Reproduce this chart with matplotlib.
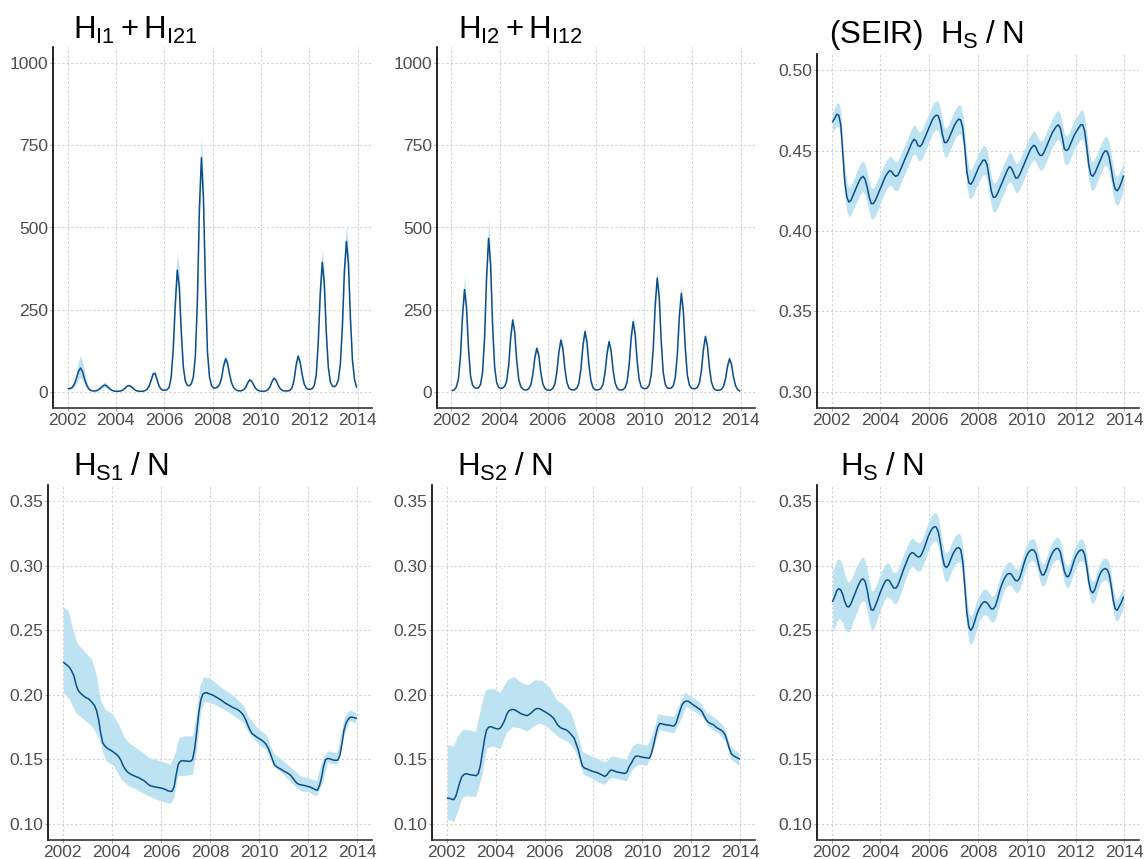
import numpy as np
import matplotlib
matplotlib.use("Agg")
import matplotlib.pyplot as plt

plt.rcParams["font.family"] = ["Liberation Sans", "DejaVu Sans"]
plt.rcParams["mathtext.fontset"] = "custom"
plt.rcParams["mathtext.rm"] = "Liberation Sans"
plt.rcParams["mathtext.it"] = "Liberation Sans:italic"
plt.rcParams["mathtext.bf"] = "Liberation Sans:bold"

# monthly time grid (mid-month), 2002-2013
t = 2002 + (np.arange(144) + 0.5) / 12

# H_I1 + H_I21, one row per year
hi1_mid = [
    9, 10, 14, 24, 42, 62, 72, 60, 38, 20, 9, 4,
    2, 2, 3, 6, 11, 17, 20, 17, 11, 6, 3, 1,
    1, 1, 2, 5, 10, 16, 18, 16, 10, 5, 2, 1,
    1, 1, 3, 7, 16, 34, 54, 55, 36, 16, 7, 4,
    4, 6, 14, 45, 130, 265, 370, 320, 180, 75, 32, 19,
    18, 24, 45, 110, 280, 560, 713, 590, 320, 120, 45, 18,
    11, 11, 14, 22, 42, 78, 100, 85, 52, 26, 12, 6,
    3, 2, 3, 6, 13, 27, 36, 31, 19, 9, 4, 2,
    1, 1, 2, 6, 14, 30, 41, 35, 21, 10, 4, 2,
    2, 2, 4, 12, 35, 80, 108, 90, 52, 24, 11, 7,
    7, 9, 18, 50, 150, 300, 394, 330, 180, 75, 30, 17,
    15, 20, 36, 85, 200, 370, 458, 390, 220, 95, 38, 14,
]
# relative upper / lower limits of the interval for each season
hi1_up = [1.52, 1.5, 1.3, 1.18, 1.16, 1.09, 1.13, 1.1, 1.1, 1.11, 1.11, 1.11]
hi1_dn = [0.6, 0.7, 0.9, 0.9, 0.9, 0.92, 0.9, 0.9, 0.9, 0.9, 0.9, 0.9]

# H_I2 + H_I12
hi2_mid = [
    3, 6, 15, 40, 110, 230, 311, 255, 130, 47, 20, 12,
    10, 12, 22, 60, 165, 350, 467, 385, 200, 75, 28, 13,
    10, 11, 16, 32, 80, 165, 218, 180, 95, 38, 15, 8,
    5, 5, 9, 20, 50, 102, 132, 110, 58, 24, 10, 5,
    4, 5, 10, 23, 60, 120, 157, 130, 70, 28, 11, 6,
    5, 6, 11, 26, 70, 140, 183, 150, 80, 32, 12, 6,
    5, 6, 10, 22, 58, 116, 152, 125, 66, 27, 11, 5,
    5, 6, 12, 30, 80, 163, 213, 175, 92, 37, 15, 10,
    9, 11, 20, 50, 130, 265, 346, 285, 150, 58, 22, 11,
    10, 11, 18, 44, 112, 228, 299, 245, 130, 50, 20, 11,
    9, 9, 13, 26, 64, 128, 168, 138, 73, 29, 11, 5,
    4, 4, 7, 16, 38, 77, 100, 82, 44, 18, 7, 2,
]
hi2_up = [1.125, 1.13, 1.09, 1.1, 1.1, 1.09, 1.09, 1.09, 1.075, 1.09, 1.065, 1.1]
hi2_dn = [0.92] * 12

# (SEIR) H_S / N
seir_mid = [
    0.468, 0.470, 0.4725, 0.472, 0.466, 0.448, 0.430, 0.421, 0.418, 0.419, 0.422, 0.425,
    0.428, 0.431, 0.433, 0.434, 0.432, 0.427, 0.421, 0.417, 0.417, 0.419, 0.422, 0.425,
    0.428, 0.431, 0.434, 0.436, 0.4375, 0.437, 0.435, 0.434, 0.4345, 0.437, 0.440, 0.443,
    0.446, 0.449, 0.452, 0.455, 0.457, 0.456, 0.453, 0.4525, 0.454, 0.457, 0.460, 0.463,
    0.466, 0.469, 0.471, 0.472, 0.4715, 0.467, 0.460, 0.455, 0.455, 0.457, 0.460, 0.463,
    0.466, 0.468, 0.4695, 0.469, 0.464, 0.452, 0.437, 0.430, 0.429, 0.431, 0.434, 0.437,
    0.440, 0.442, 0.444, 0.444, 0.441, 0.433, 0.425, 0.421, 0.421, 0.423, 0.426, 0.429,
    0.432, 0.435, 0.438, 0.440, 0.439, 0.436, 0.433, 0.433, 0.435, 0.438, 0.441, 0.444,
    0.447, 0.450, 0.452, 0.4533, 0.452, 0.449, 0.447, 0.447, 0.449, 0.452, 0.455, 0.458,
    0.461, 0.463, 0.465, 0.466, 0.464, 0.458, 0.451, 0.450, 0.451, 0.454, 0.457, 0.460,
    0.462, 0.464, 0.466, 0.466, 0.462, 0.452, 0.441, 0.435, 0.434, 0.436, 0.439, 0.442,
    0.445, 0.448, 0.4498, 0.4495, 0.446, 0.439, 0.431, 0.426, 0.425, 0.427, 0.430, 0.434,
]
seir_hw = [
    0.006, 0.0065, 0.007, 0.0075, 0.008, 0.0085, 0.009, 0.009, 0.009, 0.009, 0.009, 0.009,
] + [0.0095] * 12 + [0.009] * 120

# H_S1 / N
s1_mid = [
    0.225, 0.2238, 0.2225, 0.2208, 0.218, 0.2145, 0.208, 0.2035, 0.2015, 0.200, 0.1988, 0.1976,
    0.197, 0.1955, 0.1938, 0.1918, 0.188, 0.181, 0.171, 0.163, 0.1605, 0.159, 0.1578, 0.157,
    0.156, 0.1548, 0.1535, 0.1518, 0.149, 0.1452, 0.1425, 0.1405, 0.1392, 0.1383, 0.1375, 0.1368,
    0.1362, 0.1355, 0.1345, 0.1337, 0.1325, 0.131, 0.1298, 0.1292, 0.1288, 0.1285, 0.1282, 0.1279,
    0.1276, 0.127, 0.1264, 0.1256, 0.1252, 0.1252, 0.129, 0.1385, 0.1462, 0.1484, 0.149, 0.1488,
    0.1486, 0.1484, 0.1485, 0.150, 0.158, 0.171, 0.186, 0.196, 0.2005, 0.2015, 0.2016, 0.2008,
    0.2003, 0.1996, 0.1987, 0.1978, 0.1968, 0.1958, 0.1946, 0.1935, 0.1926, 0.1917, 0.1908, 0.1899,
    0.1893, 0.1885, 0.1873, 0.1858, 0.1838, 0.1805, 0.1765, 0.1728, 0.170, 0.1688, 0.1676, 0.1665,
    0.1656, 0.1645, 0.1632, 0.1614, 0.1585, 0.1545, 0.150, 0.1458, 0.1443, 0.1433, 0.1425, 0.1415,
    0.1405, 0.1397, 0.1388, 0.1375, 0.1355, 0.1332, 0.1315, 0.1306, 0.1302, 0.1299, 0.1296, 0.1291,
    0.1287, 0.1281, 0.1273, 0.1265, 0.126, 0.1295, 0.1355, 0.1445, 0.1498, 0.1506, 0.1504, 0.1498,
    0.1494, 0.1492, 0.1494, 0.153, 0.162, 0.1725, 0.178, 0.181, 0.1826, 0.1826, 0.1822, 0.1818,
]
s1_hi_t = [2002.04, 2002.25, 2002.4, 2002.6, 2002.9, 2003.2, 2003.4, 2003.55, 2003.75,
           2004.05, 2004.3, 2004.5, 2004.7, 2005.0, 2005.3, 2005.55, 2006.0, 2006.4,
           2006.6, 2006.75, 2007.0, 2007.3, 2007.45, 2007.6, 2007.75, 2008.0, 2008.5,
           2009.0, 2009.4, 2009.6, 2010.0, 2010.3, 2010.6, 2011.0, 2011.4, 2011.7,
           2012.0, 2012.35, 2012.6, 2012.8, 2013.2, 2013.5, 2013.7, 2013.96]
s1_hi = [0.268, 0.2643, 0.2527, 0.2398, 0.2334, 0.227, 0.214, 0.196, 0.1883,
         0.1845, 0.1767, 0.1677, 0.1626, 0.1587, 0.1548, 0.151, 0.1484, 0.1458,
         0.1548, 0.1664, 0.1677, 0.1677, 0.1832, 0.2063, 0.2135, 0.2128, 0.205,
         0.1986, 0.1909, 0.1819, 0.1729, 0.169, 0.1548, 0.1484, 0.142, 0.1368,
         0.1355, 0.133, 0.1497, 0.1561, 0.1548, 0.1832, 0.1878, 0.1862]
s1_lo_t = [2002.04, 2002.3, 2002.55, 2002.8, 2003.2, 2003.5, 2003.65, 2003.8,
           2004.1, 2004.4, 2004.7, 2005.0, 2005.5, 2006.0, 2006.4, 2006.55, 2006.7,
           2007.0, 2007.3, 2007.45, 2007.65, 2007.8, 2008.2, 2008.6, 2009.0, 2009.4,
           2009.6, 2010.0, 2010.3, 2010.6, 2011.0, 2011.4, 2011.7, 2012.0, 2012.35,
           2012.6, 2012.8, 2013.2, 2013.5, 2013.7, 2013.96]
s1_lo = [0.2017, 0.196, 0.1857, 0.1819, 0.1754, 0.1664, 0.1548, 0.1484,
         0.1445, 0.1342, 0.1291, 0.1265, 0.1214, 0.1175, 0.1155, 0.120, 0.1368,
         0.1373, 0.138, 0.1548, 0.1883, 0.1947, 0.1922, 0.1883, 0.1832, 0.178,
         0.170, 0.1613, 0.1574, 0.1445, 0.1381, 0.1304, 0.1252, 0.1245, 0.1214,
         0.1317, 0.1471, 0.1458, 0.170, 0.1793, 0.178]

# H_S2 / N
s2_mid = [
    0.120, 0.1197, 0.119, 0.1188, 0.1215, 0.127, 0.1325, 0.1367, 0.1383, 0.1388, 0.1385, 0.1381,
    0.1378, 0.1376, 0.1373, 0.139, 0.145, 0.155, 0.165, 0.1725, 0.1748, 0.1753, 0.1748, 0.1741,
    0.1737, 0.1735, 0.1745, 0.1772, 0.1805, 0.185, 0.1876, 0.1884, 0.1886, 0.1882, 0.1872, 0.1862,
    0.1853, 0.1847, 0.1842, 0.1838, 0.1848, 0.1860, 0.1876, 0.1888, 0.1894, 0.1892, 0.1884, 0.1874,
    0.1866, 0.1856, 0.1845, 0.1832, 0.1818, 0.179, 0.1765, 0.175, 0.174, 0.1735, 0.1729, 0.1718,
    0.1702, 0.1684, 0.1665, 0.162, 0.1575, 0.151, 0.145, 0.1433, 0.1427, 0.142, 0.1413, 0.1407,
    0.1403, 0.1398, 0.1392, 0.1384, 0.1376, 0.1367, 0.1378, 0.140, 0.1417, 0.1414, 0.1408, 0.1401,
    0.1399, 0.1396, 0.1393, 0.139, 0.1405, 0.1445, 0.1468, 0.150, 0.1522, 0.1526, 0.1522, 0.1518,
    0.1515, 0.1513, 0.1511, 0.1509, 0.155, 0.1615, 0.1685, 0.175, 0.1778, 0.1775, 0.1771, 0.1767,
    0.1766, 0.1763, 0.176, 0.1758, 0.178, 0.183, 0.188, 0.1925, 0.1945, 0.1951, 0.195, 0.1938,
    0.1925, 0.1915, 0.1905, 0.1893, 0.1883, 0.1862, 0.1828, 0.1802, 0.1784, 0.1776, 0.1771, 0.1758,
    0.1745, 0.1735, 0.1727, 0.1713, 0.1692, 0.1645, 0.159, 0.1547, 0.153, 0.152, 0.1511, 0.1503,
]
s2_hi_t = [2002.04, 2002.3, 2002.45, 2002.7, 2003.2, 2003.45, 2003.6, 2003.9,
           2004.2, 2004.5, 2004.75, 2005.1, 2005.35, 2005.6, 2005.9, 2006.2, 2006.5,
           2006.8, 2007.1, 2007.35, 2007.55, 2007.8, 2008.2, 2008.5, 2008.75, 2009.1,
           2009.35, 2009.6, 2009.8, 2010.2, 2010.45, 2010.65, 2011.0, 2011.3, 2011.55,
           2011.75, 2012.1, 2012.4, 2012.65, 2013.0, 2013.35, 2013.6, 2013.8, 2013.96]
s2_hi = [0.1612, 0.1599, 0.1676, 0.1732, 0.1714, 0.1933, 0.2035, 0.2048,
         0.2015, 0.2113, 0.2138, 0.2087, 0.2074, 0.2113, 0.2107, 0.2061, 0.1958,
         0.192, 0.1856, 0.1701, 0.156, 0.1534, 0.150, 0.1475, 0.1522, 0.1509,
         0.1496, 0.1599, 0.1624, 0.1604, 0.1701, 0.185, 0.1835, 0.183, 0.1933,
         0.2017, 0.1971, 0.1933, 0.1856, 0.1817, 0.1753, 0.1599, 0.1568, 0.1547]
s2_lo_t = [2002.04, 2002.3, 2002.45, 2002.65, 2002.8, 2003.2, 2003.45, 2003.65, 2003.9,
           2004.2, 2004.45, 2004.7, 2005.0, 2005.3, 2005.55, 2005.8, 2006.1, 2006.4,
           2006.65, 2006.95, 2007.2, 2007.4, 2007.6, 2007.9, 2008.2, 2008.45, 2008.75,
           2009.1, 2009.35, 2009.6, 2009.85, 2010.2, 2010.45, 2010.7, 2011.0, 2011.3,
           2011.55, 2011.8, 2012.15, 2012.45, 2012.7, 2013.1, 2013.4, 2013.65, 2013.8,
           2013.96]
s2_lo = [0.1033, 0.1013, 0.1085, 0.120, 0.1213, 0.1208, 0.1367, 0.1586, 0.1599,
         0.1578, 0.1701, 0.1748, 0.174, 0.1714, 0.1753, 0.1778, 0.1753, 0.1701,
         0.1663, 0.1637, 0.1586, 0.1496, 0.138, 0.1355, 0.1321, 0.1303, 0.1355,
         0.1342, 0.1329, 0.1419, 0.1457, 0.145, 0.1573, 0.1727, 0.1714, 0.1701,
         0.1791, 0.1907, 0.1868, 0.183, 0.1753, 0.1701, 0.1637, 0.1496, 0.1475,
         0.1444]

# H_S / N
s_mid = [
    0.2724, 0.276, 0.2805, 0.2822, 0.2812, 0.2775, 0.272, 0.2685, 0.268, 0.2705, 0.2745, 0.2785,
    0.2825, 0.286, 0.289, 0.2898, 0.2878, 0.281, 0.272, 0.2658, 0.2655, 0.269, 0.273, 0.2775,
    0.2815, 0.2852, 0.2882, 0.2891, 0.2882, 0.2852, 0.2828, 0.2825, 0.2845, 0.2885, 0.293, 0.2975,
    0.3015, 0.3055, 0.3088, 0.3102, 0.3096, 0.3078, 0.3068, 0.307, 0.3095, 0.3135, 0.318, 0.3225,
    0.3262, 0.3288, 0.3302, 0.3298, 0.326, 0.3175, 0.307, 0.300, 0.2986, 0.3005, 0.3045, 0.3085,
    0.3115, 0.3135, 0.314, 0.3125, 0.3035, 0.284, 0.264, 0.2525, 0.2498, 0.2525, 0.2575, 0.2625,
    0.2665, 0.2695, 0.2715, 0.2721, 0.2712, 0.2688, 0.2665, 0.2665, 0.2685, 0.2735, 0.2795, 0.2845,
    0.2885, 0.2915, 0.2935, 0.294, 0.2932, 0.2905, 0.2885, 0.2883, 0.2905, 0.2955, 0.301, 0.306,
    0.3095, 0.3115, 0.3125, 0.312, 0.3095, 0.303, 0.2965, 0.2928, 0.293, 0.2965, 0.3015, 0.306,
    0.3095, 0.312, 0.3133, 0.3132, 0.3105, 0.303, 0.2955, 0.2917, 0.2915, 0.295, 0.300, 0.305,
    0.3085, 0.311, 0.3122, 0.312, 0.3085, 0.299, 0.2875, 0.2805, 0.279, 0.2815, 0.2865, 0.2915,
    0.295, 0.297, 0.2978, 0.297, 0.2935, 0.2845, 0.2735, 0.2665, 0.2655, 0.2685, 0.2715, 0.2755,
]
s_hw = [
    0.024, 0.024, 0.024, 0.023, 0.023, 0.022, 0.021, 0.020, 0.019, 0.019, 0.018, 0.018,
    0.018, 0.017, 0.017, 0.017, 0.016, 0.016, 0.016, 0.015, 0.015, 0.015, 0.014, 0.014,
    0.014, 0.013, 0.013, 0.013, 0.013, 0.012, 0.012, 0.012, 0.012, 0.012, 0.012, 0.012,
] + [0.011] * 36 + [0.010] * 12 + [0.009] * 12 + [0.0085] * 48

line_col = "#0d4d8c"
band_col = "#bde3f3"
W, H = 1144, 859

fig = plt.figure(figsize=(W / 100, H / 100), dpi=100)


def panel(l, top, r, b, ylim, yticks, fmt):
    ax = fig.add_axes([l / W, 1 - b / H, (r - l) / W, (b - top) / H])
    ax.set_xlim(2001.4, 2014.6)
    ax.set_ylim(*ylim)
    ax.set_xticks(range(2002, 2015, 2))
    ax.set_yticks(yticks)
    ax.set_yticklabels([fmt.format(v) for v in yticks])
    ax.grid(True, color="#d2d2d2", linestyle=(0, (2, 2)), linewidth=0.8)
    ax.set_axisbelow(True)
    for s in ["top", "right"]:
        ax.spines[s].set_visible(False)
    ax.spines["left"].set_color("black")
    ax.spines["left"].set_linewidth(1.2)
    ax.spines["bottom"].set_color("#333333")
    ax.spines["bottom"].set_linewidth(1.2)
    ax.tick_params(axis="both", labelsize=12.5, labelcolor="#4d4d4d",
                   color="#999999", length=2, width=0.6, pad=1.5)
    return ax


def title(x, y, s):
    fig.text(x / W, 1 - y / H, s, fontsize=22.5, ha="left", va="baseline")


count_ticks = [0, 250, 500, 750, 1000]
top_ticks = [0.30, 0.35, 0.40, 0.45, 0.50]
low_ticks = [0.10, 0.15, 0.20, 0.25, 0.30, 0.35]

# top row: infected
for (l, r, mid, up, dn, tx, lab) in [
    (53, 372, hi1_mid, hi1_up, hi1_dn, 73, r"$\mathrm{H_{I1}+H_{I21}}$"),
    (437, 755, hi2_mid, hi2_up, hi2_dn, 458, r"$\mathrm{H_{I2}+H_{I12}}$"),
]:
    ax = panel(l, 47, r, 408, (-50, 1050), count_ticks, "{:.0f}")
    m = np.array(mid, dtype=float)
    ax.fill_between(t, m * np.repeat(dn, 12), m * np.repeat(up, 12),
                    color=band_col, lw=0)
    ax.plot(t, m, color=line_col, lw=1.1)
    title(tx, 39, lab)

ax = panel(817, 54, 1139, 408, (0.29, 0.51), top_ticks, "{:.2f}")
m = np.array(seir_mid)
ax.fill_between(t, m - np.array(seir_hw), m + np.array(seir_hw), color=band_col, lw=0)
ax.plot(t, m, color=line_col, lw=1.1)
title(829, 43, r"$\mathrm{(SEIR)\ \ H_{S}\;/\;N}$")

# bottom row: susceptibles
for (l, r, mid, ht, hv, lt, lv, tx, lab) in [
    (48, 372, s1_mid, s1_hi_t, s1_hi, s1_lo_t, s1_lo, 73, r"$\mathrm{H_{S1}\;/\;N}$"),
    (432, 755, s2_mid, s2_hi_t, s2_hi, s2_lo_t, s2_lo, 457, r"$\mathrm{H_{S2}\;/\;N}$"),
]:
    ax = panel(l, 485, r, 840, (0.0875, 0.3625), low_ticks, "{:.2f}")
    ax.fill(np.concatenate([ht, lt[::-1]]), np.concatenate([hv, lv[::-1]]),
            color=band_col, lw=0)
    ax.plot(t, mid, color=line_col, lw=1.1)
    title(tx, 476, lab)

ax = panel(817, 485, 1139, 840, (0.0875, 0.3625), low_ticks, "{:.2f}")
m = np.array(s_mid)
ax.fill_between(t, m - np.array(s_hw), m + np.array(s_hw), color=band_col, lw=0)
ax.plot(t, m, color=line_col, lw=1.1)
title(840, 476, r"$\mathrm{H_{S}\;/\;N}$")

fig.savefig("out.png", dpi=100)
